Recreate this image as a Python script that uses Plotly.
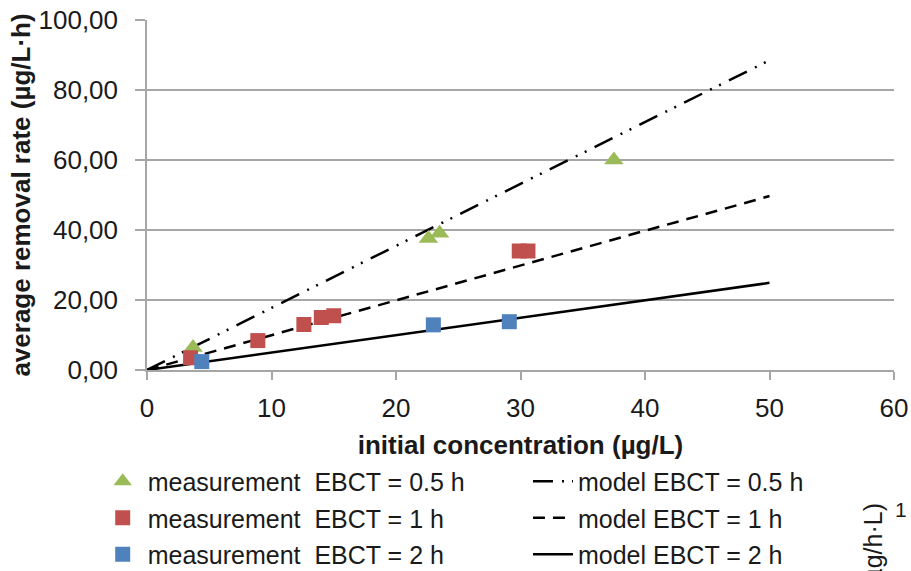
import plotly.graph_objects as go

# Measured removal rates (µg/L·h) vs. initial concentration (µg/L)
meas_05_x = [3.7, 22.6, 23.5, 37.5]
meas_05_y = [6.4, 37.6, 39.1, 60.0]

meas_1_x = [3.5, 8.9, 12.6, 14.0, 15.0, 29.9, 30.6]
meas_1_y = [3.5, 8.4, 13.0, 15.0, 15.5, 34.0, 34.0]

meas_2_x = [4.4, 23.0, 29.1]
meas_2_y = [2.4, 12.9, 13.8]

# Model curves
model_x = [0, 5, 10, 15, 20, 25, 30, 35, 40, 45, 50]
model_05_y = [0, 8.9, 17.8, 26.6, 35.5, 44.3, 53.2, 62.0, 70.9, 79.7, 88.5]
model_1_y = [0, 5.0, 9.9, 14.9, 19.9, 24.9, 29.8, 34.8, 39.8, 44.7, 49.7]
model_2_y = [0, 2.5, 5.0, 7.4, 9.9, 12.4, 14.9, 17.4, 19.9, 22.4, 24.9]

x_ticks = [0, 10, 20, 30, 40, 50, 60]
y_ticks = [0, 20, 40, 60, 80, 100]

GREEN = "#9BBB59"
RED = "#C0504D"
BLUE = "#4F81BD"
FONT = "Liberation Sans, Arial, sans-serif"
TXT = "#1a1a1a"
GRID = "#A6A6A6"

fig = go.Figure()

fig.add_trace(go.Scatter(x=model_x, y=model_2_y, mode="lines",
                         name="model EBCT = 2 h", legend="legend2",
                         legendrank=3, legendgroup="m2",
                         line=dict(color="black", width=2.5)))
fig.add_trace(go.Scatter(x=model_x, y=model_1_y, mode="lines",
                         name="model EBCT = 1 h", legend="legend2",
                         legendrank=2, legendgroup="m1",
                         line=dict(color="black", width=2.5, dash="12px,8px")))
fig.add_trace(go.Scatter(x=model_x, y=model_05_y, mode="lines",
                         name="model EBCT = 0.5 h", legend="legend2",
                         legendrank=1, legendgroup="m05",
                         line=dict(color="black", width=2.5,
                                   dash="20px,9px,2px,8px,2px,9px")))

fig.add_trace(go.Scatter(x=meas_05_x, y=meas_05_y, mode="markers",
                         name="measurement  EBCT = 0.5 h", legendrank=1,
                         legendgroup="a05",
                         marker=dict(symbol="triangle-up", size=17, color=GREEN)))
fig.add_trace(go.Scatter(x=meas_1_x, y=meas_1_y, mode="markers",
                         name="measurement  EBCT = 1 h", legendrank=2,
                         legendgroup="a1",
                         marker=dict(symbol="square", size=15, color=RED)))
fig.add_trace(go.Scatter(x=meas_2_x, y=meas_2_y, mode="markers",
                         name="measurement  EBCT = 2 h", legendrank=3,
                         legendgroup="a2",
                         marker=dict(symbol="square", size=15, color=BLUE)))

legend_common = dict(
    font=dict(family=FONT, size=25, color=TXT),
    bgcolor="rgba(0,0,0,0)",
    yanchor="top",
    xanchor="left",
    tracegroupgap=1,
    traceorder="grouped",
    itemwidth=40,
)

fig.update_layout(
    width=911,
    height=571,
    margin=dict(l=147, r=17, t=20, b=201, autoexpand=False),
    paper_bgcolor="white",
    plot_bgcolor="white",
    separators=",.",
    font=dict(family=FONT, color=TXT),
    showlegend=True,
    legend=dict(x=-0.066, y=-0.253, **legend_common),
    legend2=dict(x=0.51, y=-0.253, **legend_common),
    xaxis=dict(
        range=[0, 60],
        tickvals=x_ticks,
        showgrid=False,
        zeroline=False,
        showline=True,
        linecolor=GRID,
        linewidth=1.5,
        ticks="outside",
        ticklen=8,
        tickcolor=GRID,
        tickwidth=1.5,
        tickfont=dict(family=FONT, size=26, color=TXT),
        ticklabelstandoff=6,
        automargin=False,
        title=dict(text="<b>initial concentration (µg/L)</b>",
                   font=dict(family=FONT, size=26, color=TXT), standoff=14),
    ),
    yaxis=dict(
        range=[0, 100],
        tickvals=y_ticks,
        tickformat=".2f",
        showgrid=True,
        gridcolor=GRID,
        gridwidth=1.5,
        zeroline=False,
        showline=True,
        linecolor=GRID,
        linewidth=1.5,
        ticks="outside",
        ticklen=10,
        tickcolor=GRID,
        tickwidth=1.5,
        tickfont=dict(family=FONT, size=26, color=TXT),
        ticklabelstandoff=12,
        automargin=False,
        title=dict(text="<b>average removal rate (µg/L·h)</b>",
                   font=dict(family=FONT, size=26, color=TXT), standoff=0),
    ),
)

# Fragment of a neighbouring axis title at the lower right edge
fig.add_annotation(xref="paper", yref="paper", x=0.993, y=-0.375,
                   xanchor="right", yanchor="top", textangle=-90,
                   text="(µg/h·L)", showarrow=False,
                   font=dict(family=FONT, size=25, color=TXT))
fig.add_annotation(xref="paper", yref="paper", x=1.02, y=-0.36,
                   xanchor="right", yanchor="top",
                   text="1", showarrow=False,
                   font=dict(family=FONT, size=21, color=TXT))

fig.write_html("out.html")
